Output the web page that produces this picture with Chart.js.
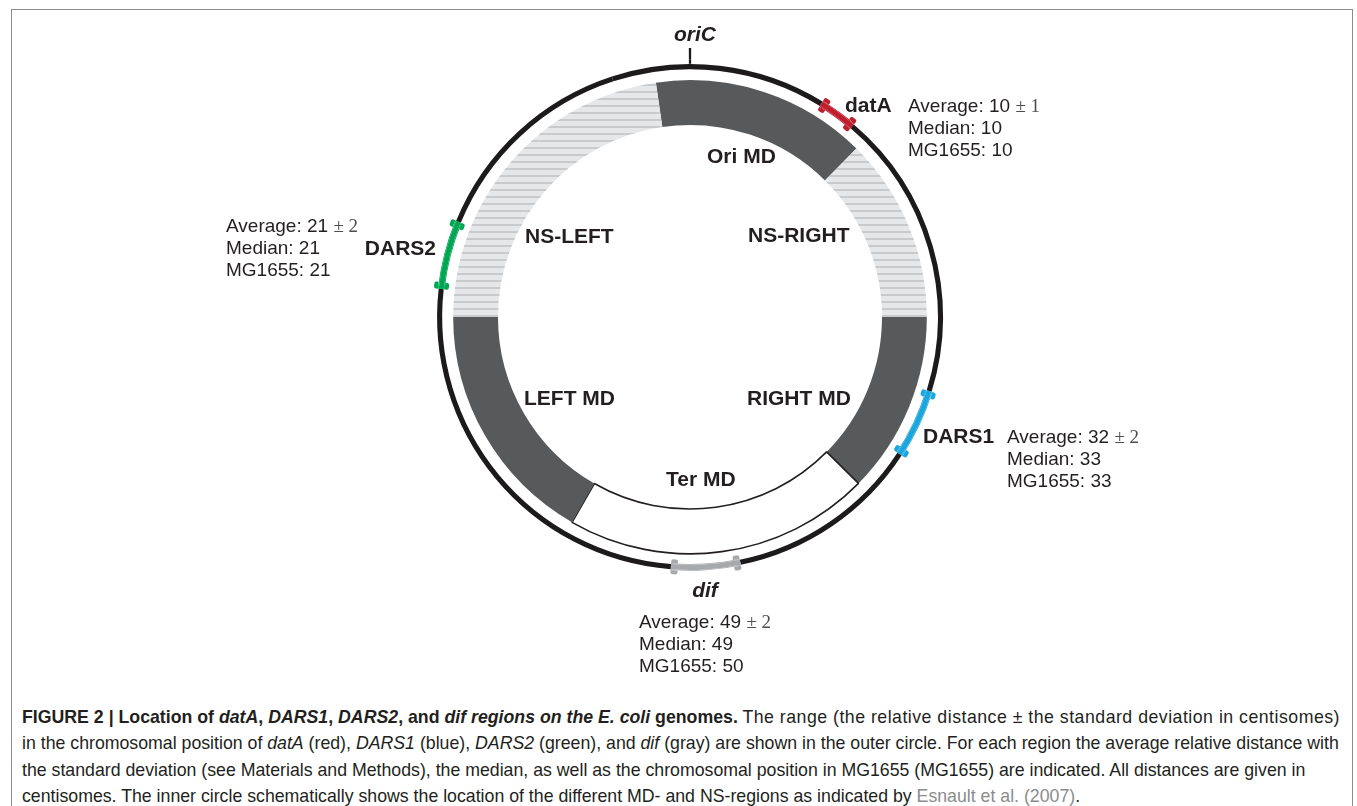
<!DOCTYPE html>
<html>
<head>
<meta charset="utf-8">
<script src="https://cdn.jsdelivr.net/npm/chart.js@4.4.1/dist/chart.umd.min.js"></script>
<style>
  html, body { margin: 0; padding: 0; background: #ffffff; width: 1357px; height: 806px; overflow: hidden; }
  #frame { position: absolute; left: 11px; top: 9px; width: 1342px; height: 830px; border: 1.5px solid #8c8c8c; box-sizing: border-box; }
  #wrap { position: absolute; left: 0; top: 0; width: 1357px; height: 700px; }
  #caption { position: absolute; left: 22px; top: 704px; font-family: 'Liberation Sans Narrow', 'Liberation Sans', Arial, sans-serif;
             color: #231f20; white-space: nowrap; line-height: 26.3px; font-size: 18px; }
  #caption .ln { display: block; }
  #caption .ln > span { display: inline-block; }
  #caption .ref { color: #8a8c8e; }
</style>
</head>
<body>
<div id="frame"></div>
<div id="wrap"><canvas id="c" width="1357" height="700"></canvas></div>
<div id="caption">
  <div class="ln"><span id="line1"><b>FIGURE 2 | Location of <i>datA</i>, <i>DARS1</i>, <i>DARS2</i>, and <i>dif regions on the E. coli</i> genomes.</b> <span id="line1tail">The range (the relative distance ± the standard deviation in centisomes)</span></span></div>
  <div class="ln"><span id="fitline">in the chromosomal position of <i>datA</i> (red), <i>DARS1</i> (blue), <i>DARS2</i> (green), and <i>dif</i> (gray) are shown in the outer circle. For each region the average relative distance with</span></div>
  <div class="ln"><span>the standard deviation (see Materials and Methods), the median, as well as the chromosomal position in MG1655 (MG1655) are indicated. All distances are given in</span></div>
  <div class="ln"><span>centisomes. The inner circle schematically shows the location of the different MD- and NS-regions as indicated by <span class="ref">Esnault et al. (2007)</span>.</span></div>
</div>
<script>
// ---------------- DATA (centisomes) ----------------
const markerNames = ['datA', 'DARS1', 'DARS2', 'dif'];
const markerAverage = [10, 32, 21, 49];
const markerSD = [1, 2, 2, 2];
const markerMedian = [10, 33, 21, 49];
const markerMG1655 = [10, 33, 21, 50];
const markerReplichore = ['right', 'right', 'left', 'right'];

const domainNames = ['Ori MD', 'NS-RIGHT', 'RIGHT MD', 'Ter MD', 'LEFT MD', 'NS-LEFT'];
const domainSizes = [14.7, 12.6, 12.4, 20.9, 16.7, 22.7];
const domainStart = -2.3;

const originLabel = 'oriC';
const originPosition = 0;
const genomeLength = 100;

// ---------------- STYLE ----------------
const markerColors = ['#be1e2d', '#1ba6de', '#00a651', '#a7a9ac'];
const domainKinds = ['dark', 'stripe', 'dark', 'white', 'dark', 'stripe'];
const darkGray = '#58595b';
const inkBlack = '#1c1a1b';
const textColor = '#231f20';
const capWidth = 0.44;     // centisomes
const tickWidth = 0.14;    // centisomes
const drawOrigin = -5;     // centisomes where ring segment lists start

// ring thicknesses (px), outer -> inner
const ringWeights = { tick: 11, capsOuter: 4, arcOuter: 0.8, circle: 5, arcInner: 0.8, capsInner: 4, gap: 6, domains: 44 };
const innerCutout = 192;
const outerRadius = 269;
const center = { x: 690, y: 317 };

// text layout offsets from circle center (px)
const markerNameLayout = [
  { dx: 155, dy: -205, align: 'left', italic: false },
  { dx: 233, dy: 126, align: 'left', italic: false },
  { dx: -254, dy: -62, align: 'right', italic: false },
  { dx: 15, dy: 280, align: 'center', italic: true }
];
const markerInfoLayout = [
  { dx: 218, dy: -205 }, { dx: 317, dy: 126 }, { dx: -464, dy: -85 }, { dx: -51, dy: 311 }
];
const domainLabelLayout = [
  { dx: 17, dy: -154 }, { dx: 58, dy: -75 }, { dx: 57, dy: 88 },
  { dx: -24, dy: 169 }, { dx: -166, dy: 88 }, { dx: -165, dy: -74 }
];
const originLayout = { dx: 5, dy: -276 };

// ---------------- helpers ----------------
function stripePattern() {
  const c = document.createElement('canvas');
  c.width = 8; c.height = 7;
  const g = c.getContext('2d');
  g.fillStyle = '#e6e7e8'; g.fillRect(0, 0, 8, 7);
  g.fillStyle = '#c9cacc'; g.fillRect(0, 0, 8, 2);
  return g.createPattern(c, 'repeat');
}
function markerCenter(i) {
  return markerReplichore[i] === 'left' ? genomeLength - markerAverage[i] : markerAverage[i];
}
function rel(x) { return ((x - drawOrigin) % genomeLength + genomeLength) % genomeLength; }
function buildRing(intervals, bg) {
  const iv = intervals.map(o => ({ s: rel(o.s), len: o.e - o.s, color: o.color, kind: o.kind }))
                      .sort((a, b) => a.s - b.s);
  const data = [], colors = [], kinds = [];
  let cur = 0;
  iv.forEach(o => {
    if (o.s > cur) { data.push(o.s - cur); colors.push(bg); kinds.push('bg'); }
    data.push(o.len); colors.push(o.color); kinds.push(o.kind);
    cur = o.s + o.len;
  });
  if (cur < genomeLength) { data.push(genomeLength - cur); colors.push(bg); kinds.push('bg'); }
  return { data, colors, kinds };
}

const NONE = 'rgba(0,0,0,0)';
const tickInterval = { s: originPosition - tickWidth / 2, e: originPosition + tickWidth / 2, color: inkBlack, kind: 'tick' };
const capIntervals = [];
const arcIntervals = [];
markerNames.forEach((n, i) => {
  const c = markerCenter(i), lo = c - markerSD[i], hi = c + markerSD[i];
  capIntervals.push({ s: lo - capWidth / 2, e: lo + capWidth / 2, color: markerColors[i], kind: 'cap' });
  capIntervals.push({ s: hi - capWidth / 2, e: hi + capWidth / 2, color: markerColors[i], kind: 'cap' });
  arcIntervals.push({ s: lo - capWidth / 2, e: hi + capWidth / 2, color: markerColors[i], kind: 'arc' });
});

const ringTick = buildRing([tickInterval], NONE);
const ringCapsOuter = buildRing(capIntervals.concat([tickInterval]), NONE);
const ringArcOuter = buildRing(arcIntervals.concat([tickInterval]), NONE);
const ringCircle = buildRing(arcIntervals, inkBlack);
const ringArcInner = buildRing(arcIntervals, NONE);
const ringCapsInner = buildRing(capIntervals, NONE);

const stripes = stripePattern();
const domainColors = domainKinds.map(k => k === 'dark' ? darkGray : (k === 'white' ? '#ffffff' : stripes));
const domainBorder = domainKinds.map(k => k === 'white' ? 1.6 : 0);

function ringDataset(r, weight, radiusFn) {
  return {
    data: r.data, backgroundColor: r.colors, weight: weight,
    rotation: drawOrigin * 360 / genomeLength,
    borderWidth: 0, hoverBorderWidth: 0, hoverOffset: 0, offset: 0,
    borderRadius: radiusFn ? (ctx => r.kinds[ctx.dataIndex] === 'cap' ? radiusFn : 0) : 0
  };
}

const datasets = [
  ringDataset(ringTick, ringWeights.tick),
  ringDataset(ringCapsOuter, ringWeights.capsOuter, { outerStart: 2.5, outerEnd: 2.5, innerStart: 0, innerEnd: 0 }),
  ringDataset(ringArcOuter, ringWeights.arcOuter),
  ringDataset(ringCircle, ringWeights.circle),
  ringDataset(ringArcInner, ringWeights.arcInner),
  ringDataset(ringCapsInner, ringWeights.capsInner, { outerStart: 0, outerEnd: 0, innerStart: 2.5, innerEnd: 2.5 }),
  { data: [genomeLength], backgroundColor: [NONE], weight: ringWeights.gap, borderWidth: 0, hoverBorderWidth: 0 },
  { data: domainSizes, backgroundColor: domainColors, weight: ringWeights.domains,
    rotation: domainStart * 360 / genomeLength, borderWidth: domainBorder, borderColor: textColor,
    hoverBorderWidth: 0, hoverOffset: 0, offset: 0 }
];
const domainDatasetIndex = datasets.length - 1;

// ---------------- labels plugin ----------------
const SANS = '"Liberation Sans", Arial, Helvetica, sans-serif';
const SERIF = '"Liberation Serif", "Times New Roman", serif';
const labelPlugin = {
  id: 'labels',
  afterDatasetsDraw(chart) {
    const ctx = chart.ctx;
    const arc = chart.getDatasetMeta(domainDatasetIndex).data[0];
    const cx = arc.x, cy = arc.y;
    ctx.save();
    ctx.fillStyle = textColor;
    ctx.textBaseline = 'alphabetic';

    ctx.font = 'italic bold 21px ' + SANS;
    ctx.textAlign = 'center';
    ctx.fillText(originLabel, cx + originLayout.dx, cy + originLayout.dy);

    ctx.font = 'bold 21px ' + SANS;
    ctx.textAlign = 'left';
    domainNames.forEach((n, i) => {
      ctx.fillText(n, cx + domainLabelLayout[i].dx, cy + domainLabelLayout[i].dy);
    });

    markerNames.forEach((n, i) => {
      const L = markerNameLayout[i];
      ctx.font = (L.italic ? 'italic ' : '') + 'bold 21px ' + SANS;
      ctx.textAlign = L.align;
      ctx.fillStyle = textColor;
      ctx.fillText(n, cx + L.dx, cy + L.dy);

      const I = markerInfoLayout[i];
      const x0 = cx + I.dx, y0 = cy + I.dy;
      ctx.textAlign = 'left';
      ctx.font = '19px ' + SANS;
      const head = 'Average: ' + markerAverage[i] + ' ';
      ctx.fillStyle = textColor;
      ctx.fillText(head, x0, y0);
      const w = ctx.measureText(head).width;
      ctx.font = '19px ' + SERIF;
      ctx.fillStyle = '#4d4d4f';
      ctx.fillText('± ' + markerSD[i], x0 + w, y0);
      ctx.font = '19px ' + SANS;
      ctx.fillStyle = textColor;
      ctx.fillText('Median: ' + markerMedian[i], x0, y0 + 22);
      ctx.fillText('MG1655: ' + markerMG1655[i], x0, y0 + 44);
    });
    ctx.restore();
  }
};

const padLeft = center.x - outerRadius, padTop = center.y - outerRadius;
new Chart(document.getElementById('c'), {
  type: 'doughnut',
  data: { labels: ringCircle.data.map((_, i) => 's' + i), datasets: datasets },
  options: {
    responsive: false,
    animation: false,
    events: [],
    cutout: innerCutout,
    layout: { padding: { left: padLeft, top: padTop,
                         right: 1357 - padLeft - 2 * outerRadius, bottom: 700 - padTop - 2 * outerRadius } },
    elements: { arc: { borderWidth: 0 } },
    plugins: { legend: { display: false }, tooltip: { enabled: false }, title: { display: false } }
  },
  plugins: [labelPlugin]
});

// fit caption width
(function fitCaption() {
  const target = 1318;
  const span = document.getElementById('fitline');
  const w = span.getBoundingClientRect().width;
  if (w > 0) {
    const fs = 18 * target / w;
    document.getElementById('caption').style.fontSize = fs.toFixed(2) + 'px';
  }
  const l1 = document.getElementById('line1');
  const tail = document.getElementById('line1tail');
  const w1 = l1.getBoundingClientRect().width;
  const chars = tail.textContent.length;
  if (w1 > 0 && w1 < target && chars > 0) {
    tail.style.letterSpacing = ((target - w1) / chars).toFixed(3) + 'px';
  }
})();
</script>
</body>
</html>
